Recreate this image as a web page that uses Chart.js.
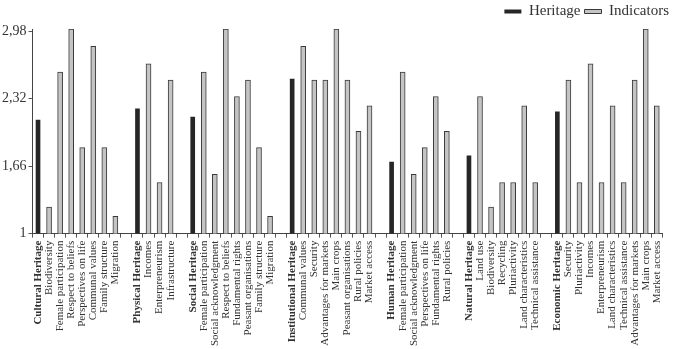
<!DOCTYPE html>
<html>
<head>
<meta charset="utf-8">
<script src="https://cdn.jsdelivr.net/npm/chart.js@4.4.0/dist/chart.umd.min.js"></script>
<style>
  html, body { margin: 0; padding: 0; background: #fff; }
  #wrap { width: 673px; height: 349px; }
</style>
</head>
<body>
<div id="wrap"><canvas id="chart"></canvas></div>
<script>
// categories ('' = gap between groups)
const categorias = [
  'Cultural Heritage', 'Biodiversity', 'Female participation', 'Respect to beliefs',
  'Perspectives on life', 'Communal values', 'Family structure', 'Migration', '',
  'Physical Heritage', 'Incomes', 'Enterpreneurism', 'Infrastructure', '',
  'Social Heritage', 'Female participation', 'Social acknowledgment', 'Respect to beliefs',
  'Fundamental rights', 'Peasant organisations', 'Family structure', 'Migration', '',
  'Institutional Heritage', 'Communal values', 'Security', 'Advantages for markets',
  'Main crops', 'Peasant organisations', 'Rural policies', 'Market access', '',
  'Human Heritage', 'Female participation', 'Social acknowledgment', 'Perspectives on life',
  'Fundamental rights', 'Rural policies', '',
  'Natural Heritage', 'Land use', 'Biodiversity', 'Recycling', 'Pluriactivity',
  'Land characteristics', 'Technical assistance', '',
  'Economic Heritage', 'Security', 'Pluriactivity', 'Incomes', 'Enterpreneurism',
  'Land characteristics', 'Technical assistance', 'Advantages for markets', 'Main crops', 'Market access'
];

const heritage = [
  2.11, null, null, null, null, null, null, null, null,
  2.22, null, null, null, null,
  2.14, null, null, null, null, null, null, null, null,
  2.51, null, null, null, null, null, null, null, null,
  1.70, null, null, null, null, null, null,
  1.76, null, null, null, null, null, null, null,
  2.19, null, null, null, null, null, null, null, null, null
];

const indicadores = [
  null, 1.26, 2.58, 3.00, 1.84, 2.83, 1.84, 1.17, null,
  null, 2.66, 1.50, 2.50, null,
  null, 2.58, 1.58, 3.00, 2.34, 2.50, 1.84, 1.17, null,
  null, 2.83, 2.50, 2.50, 3.00, 2.50, 2.00, 2.25, null,
  null, 2.58, 1.58, 1.84, 2.34, 2.00, null,
  null, 2.34, 1.26, 1.50, 1.50, 2.25, 1.50, null,
  null, 2.50, 1.50, 2.66, 1.50, 2.25, 1.50, 2.50, 3.00, 2.25
];

const ticksY = [1, 1.66, 2.32, 2.98];

const serif = '"Liberation Serif", "DejaVu Serif", serif';

const ctx = document.getElementById('chart').getContext('2d');
new Chart(ctx, {
  type: 'bar',
  data: {
    labels: categorias,
    datasets: [
      {
        label: 'Heritage',
        data: heritage,
        backgroundColor: '#262626',
        borderColor: '#262626',
        borderWidth: 0,
        barThickness: 4
      },
      {
        label: 'Indicators',
        data: indicadores,
        backgroundColor: '#c4c4c4',
        borderColor: '#3a3a3a',
        borderWidth: 1,
        barThickness: 5
      }
    ]
  },
  options: {
    responsive: true,
    maintainAspectRatio: false,
    animation: false,
    layout: { padding: { left: 0, right: 0, top: 0, bottom: 0 } },
    datasets: { bar: { grouped: false } },
    plugins: {
      legend: {
        position: 'top',
        align: 'end',
        labels: {
          font: { family: serif, size: 15 },
          color: '#333',
          boxWidth: 17,
          boxHeight: 4,
          padding: 4
        }
      },
      tooltip: { enabled: false }
    },
    scales: {
      x: {
        offset: true,
        grid: {
          display: true,
          offset: true,
          drawOnChartArea: false,
          tickLength: 4,
          color: '#555'
        },
        border: { display: true, color: '#444', width: 1 },
        ticks: {
          autoSkip: false,
          minRotation: 90,
          maxRotation: 90,
          padding: 3,
          color: '#333',
          font: (c) => {
            const lab = categorias[c.index] || '';
            return {
              family: serif,
              size: 11,
              weight: lab.includes('Heritage') ? 'bold' : 'normal'
            };
          }
        }
      },
      y: {
        min: 1,
        max: 3,
        afterBuildTicks: (axis) => {
          axis.ticks = ticksY.map(v => ({ value: v }));
        },
        grid: {
          display: true,
          drawOnChartArea: false,
          tickLength: 4,
          color: '#555'
        },
        border: { display: true, color: '#444', width: 1 },
        ticks: {
          color: '#333',
          padding: 2,
          font: { family: serif, size: 14 },
          callback: (v) => v === 1 ? '1' : Number(v).toFixed(2).replace('.', ',')
        }
      }
    }
  }
});
</script>
</body>
</html>
